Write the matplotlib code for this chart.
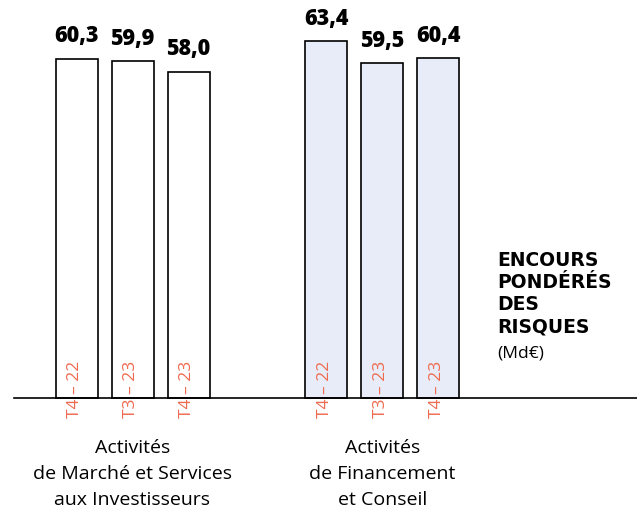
import matplotlib.pyplot as plt

# data
periods = ["T4 – 22", "T3 – 23", "T4 – 23", "T4 – 22", "T3 – 23", "T4 – 23"]
values = [60.3, 59.9, 58.0, 63.4, 59.5, 60.4]
value_labels = ["60,3", "59,9", "58,0", "63,4", "59,5", "60,4"]
groups = ["Activités\nde Marché et Services\naux Investisseurs",
          "Activités\nde Financement\net Conseil"]

# layout: bar centres in "bar slot" units
positions = [0, 1, 2, 4.46, 5.46, 6.46]
group_centres = [1, 5.46]
fills = ["white"] * 3 + ["#e8ecf8"] * 3

px = 56.0      # pixels per x unit
py = 5.625     # pixels per value unit
x0, y0 = 76.5, 398  # pixel position of (0, 0)

fig = plt.figure(figsize=(6.37, 5.15), dpi=100)
ax = fig.add_axes([0, 0, 1, 1])
ax.set_xlim(-x0 / px, (637 - x0) / px)
ax.set_ylim(-(515 - y0) / py, y0 / py)
ax.axis("off")

ax.bar(positions, values, width=0.75, color=fills, edgecolor="black",
       linewidth=1.2, zorder=2)
ax.plot([(14 - x0) / px, (637 - x0) / px], [0, 0], color="black",
        linewidth=1.2, zorder=3)

for x, v, lab, per in zip(positions, values, value_labels, periods):
    ax.annotate(lab, (x, v), xytext=(0, 7.5), textcoords="offset points",
                ha="center", va="bottom", fontsize=15.5, fontweight="heavy",
                family="Open Sans")
    ax.text(x - 0.02, (y0 - 389) / py, per, rotation=90, ha="center",
            va="center", fontsize=12.5, color="#ee6a50", family="Open Sans",
            zorder=4)

for xc, g in zip(group_centres, groups):
    ax.text(xc, (y0 - 439) / py, g, ha="center", va="top",
            fontsize=14, family="Open Sans", linespacing=1.57)

ax.text((497 - x0) / px, (y0 - 294) / py, "ENCOURS\nPONDÉRÉS\nDES\nRISQUES",
        ha="left", va="center", fontsize=13.5, fontweight="heavy",
        family="DejaVu Sans", linespacing=1.2)
ax.text((497 - x0) / px, (y0 - 354) / py, "(Md€)", ha="left", va="center",
        fontsize=12.5, family="Open Sans")

plt.savefig("out.png", dpi=100)
